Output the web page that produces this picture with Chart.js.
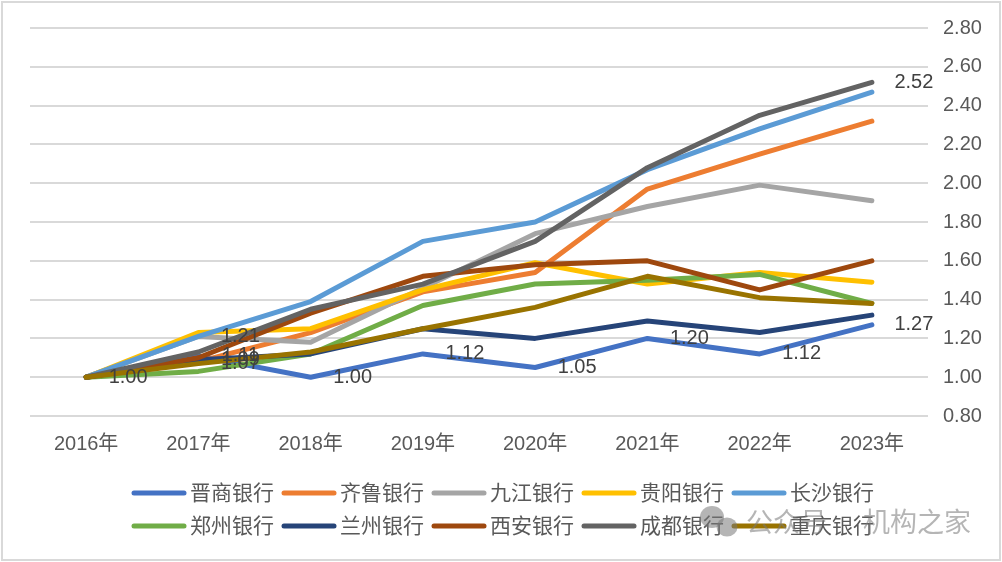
<!DOCTYPE html>
<html>
<head>
<meta charset="utf-8">
<style>
    html, body { margin: 0; padding: 0; background: #fff; }
    #wrap { position: relative; width: 1002px; height: 562px; }
</style>
<script src="https://cdn.jsdelivr.net/npm/chart.js@4"></script>
</head>
<body>
<div id="wrap"><canvas id="chart" width="1002" height="562"></canvas></div>
<script>
// Chart data
const years = ['2016年', '2017年', '2018年', '2019年', '2020年', '2021年', '2022年', '2023年'];
const banks = ['晋商银行', '齐鲁银行', '九江银行', '贵阳银行', '长沙银行', '郑州银行', '兰州银行', '西安银行', '成都银行', '重庆银行'];
const colors = ['#4472c4', '#ed7d31', '#a5a5a5', '#ffc000', '#5b9bd5', '#70ad47', '#264478', '#9e480e', '#636363', '#997300'];
const tickValues = [0.8, 1.0, 1.2, 1.4, 1.6, 1.8, 2.0, 2.2, 2.4, 2.6, 2.8];

const jinshang = [1.00, 1.11, 1.00, 1.12, 1.05, 1.20, 1.12, 1.27];
const qilu = [1.00, 1.08, 1.23, 1.44, 1.54, 1.97, 2.15, 2.32];
const jiujiang = [1.00, 1.21, 1.18, 1.46, 1.74, 1.88, 1.99, 1.91];
const guiyang = [1.00, 1.23, 1.25, 1.45, 1.59, 1.48, 1.54, 1.49];
const changsha = [1.00, 1.21, 1.39, 1.70, 1.80, 2.07, 2.28, 2.47];
const zhengzhou = [1.00, 1.03, 1.12, 1.37, 1.48, 1.50, 1.53, 1.38];
const lanzhou = [1.00, 1.09, 1.12, 1.25, 1.20, 1.29, 1.23, 1.32];
const xian = [1.00, 1.10, 1.33, 1.52, 1.58, 1.60, 1.45, 1.60];
const chengdu = [1.00, 1.13, 1.35, 1.48, 1.70, 2.08, 2.35, 2.52];
const chongqing = [1.00, 1.07, 1.13, 1.25, 1.36, 1.52, 1.41, 1.38];
const allSeries = [jinshang, qilu, jiujiang, guiyang, changsha, zhengzhou, lanzhou, xian, chengdu, chongqing];

// Which points carry a value label: [series index, year index]
const labelled = [
    [0, 0], [0, 1], [0, 2], [0, 3], [0, 4], [0, 5], [0, 6], [0, 7],
    [2, 1], [6, 1], [9, 1], [8, 7]
];

const FONT = '"Liberation Sans", "Noto Sans CJK SC", sans-serif';
const CJK_FONT = '"Noto Sans CJK SC", "Noto Sans", sans-serif';
const TEXT_COLOR = '#595959';

// Outer frame, drawn first
const framePlugin = {
    id: 'frame',
    beforeDraw(chart) {
        const ctx = chart.ctx;
        ctx.save();
        ctx.fillStyle = '#fff';
        ctx.fillRect(0, 0, 1002, 562);
        ctx.strokeStyle = '#d9d9d9';
        ctx.lineWidth = 2;
        ctx.strokeRect(2, 2, 998, 558);
        ctx.restore();
    }
};

// Value labels to the right of the points
const valueLabelPlugin = {
    id: 'valueLabels',
    afterDatasetsDraw(chart) {
        const ctx = chart.ctx;
        ctx.save();
        ctx.font = '20px ' + FONT;
        ctx.fillStyle = '#404040';
        ctx.textAlign = 'center';
        ctx.textBaseline = 'middle';
        labelled.forEach(([s, i]) => {
            const v = allSeries[s][i];
            const x = chart.scales.x.getPixelForValue(i) + 42;
            const y = chart.scales.y.getPixelForValue(v);
            ctx.fillText(v.toFixed(2), x, y);
        });
        ctx.restore();
    }
};

// Two row legend with rounded line samples
const legendPlugin = {
    id: 'rowLegend',
    afterDraw(chart) {
        const ctx = chart.ctx;
        ctx.save();
        ctx.font = '21px ' + CJK_FONT;
        ctx.textBaseline = 'middle';
        ctx.lineCap = 'round';
        ctx.lineWidth = 5;
        banks.forEach((name, i) => {
            const x = 134 + (i % 5) * 150;
            const y = i < 5 ? 493 : 526;
            ctx.strokeStyle = colors[i];
            ctx.beginPath();
            ctx.moveTo(x, y);
            ctx.lineTo(x + 50, y);
            ctx.stroke();
            ctx.fillStyle = TEXT_COLOR;
            ctx.fillText(name, x + 56, y - 1);
        });
        ctx.restore();
    }
};

// Watermark over the legend
const watermarkPlugin = {
    id: 'watermark',
    afterDraw(chart) {
        const ctx = chart.ctx;
        ctx.save();
        ctx.fillStyle = 'rgba(120, 120, 120, 0.55)';
        ctx.beginPath();
        ctx.ellipse(712, 517, 12, 11, 0, 0, Math.PI * 2);
        ctx.fill();
        ctx.beginPath();
        ctx.ellipse(727, 527, 10.5, 9.5, 0, 0, Math.PI * 2);
        ctx.fill();
        ctx.font = '27px ' + CJK_FONT;
        ctx.textBaseline = 'middle';
        ctx.fillText('公众号', 746, 522);
        ctx.fillText('机构之家', 863, 522);
        ctx.restore();
    }
};

new Chart(document.getElementById('chart').getContext('2d'), {
    type: 'line',
    data: {
        labels: years,
        datasets: banks.map((name, i) => ({
            label: name,
            data: allSeries[i],
            borderColor: colors[i],
            backgroundColor: colors[i],
            borderWidth: 5,
            borderCapStyle: 'round',
            borderJoinStyle: 'round',
            pointRadius: 0,
            tension: 0,
            order: banks.length - i
        }))
    },
    options: {
        responsive: false,
        animation: false,
        layout: { padding: { left: 30, top: 28, right: 0, bottom: 106 } },
        plugins: {
            legend: { display: false },
            tooltip: { enabled: false }
        },
        scales: {
            x: {
                offset: true,
                grid: { display: false },
                border: { display: false },
                ticks: { color: TEXT_COLOR, font: { size: 20, family: FONT }, padding: 8, maxRotation: 0 },
                afterFit(scale) { scale.height = 40; }
            },
            y: {
                position: 'right',
                min: tickValues[0],
                max: tickValues[tickValues.length - 1],
                grid: { color: '#d9d9d9', lineWidth: 2, drawTicks: false },
                border: { display: false },
                ticks: {
                    stepSize: 0.2,
                    color: TEXT_COLOR,
                    font: { size: 20, family: FONT },
                    padding: 15,
                    callback: (value) => value.toFixed(2)
                },
                afterFit(scale) { scale.width = 74; }
            }
        }
    },
    plugins: [framePlugin, valueLabelPlugin, legendPlugin, watermarkPlugin]
});
</script>
</body>
</html>
